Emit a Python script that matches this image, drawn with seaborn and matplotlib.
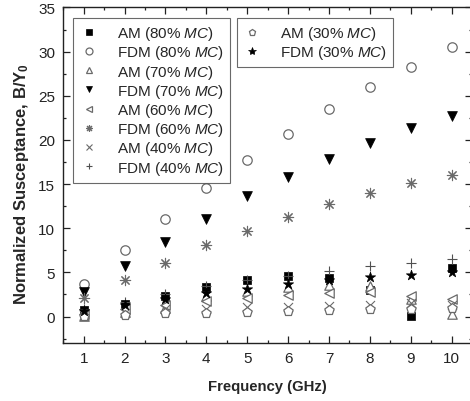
import matplotlib
matplotlib.use("Agg")
import matplotlib.pyplot as plt
from matplotlib.lines import Line2D
from matplotlib.ticker import MultipleLocator
import seaborn as sns
import pandas as pd

# Frequencies (GHz)
freq = [1, 2, 3, 4, 5, 6, 7, 8, 9, 10]

# Normalized susceptance B/Y0 per method and moisture content
am_80 = [0.7, 1.45, 2.35, 3.3, 4.15, 4.6, 4.4, 3.0, 0.1, 5.45]
fdm_80 = [3.7, 7.5, 11.0, 14.5, 17.7, 20.7, 23.5, 26.0, 28.3, 30.5]
am_70 = [0.1, 0.5, 1.0, 2.3, 2.9, 3.3, 3.6, 3.4, 2.0, 0.3]
fdm_70 = [2.8, 5.7, 8.4, 11.0, 13.6, 15.8, 17.8, 19.7, 21.3, 22.7]
am_60 = [0.3, 0.8, 1.3, 1.7, 2.1, 2.45, 2.7, 2.8, 2.3, 1.95]
fdm_60 = [2.1, 4.1, 6.1, 8.05, 9.7, 11.3, 12.7, 14.0, 15.1, 16.0]
am_40 = [0.2, 0.45, 0.8, 0.9, 1.05, 1.1, 1.2, 1.3, 1.5, 1.35]
fdm_40 = [0.8, 1.6, 2.6, 3.5, 4.15, 4.6, 5.2, 5.7, 6.1, 6.55]
am_30 = [0.05, 0.2, 0.35, 0.45, 0.55, 0.65, 0.75, 0.85, 0.9, 0.95]
fdm_30 = [0.6, 1.3, 2.0, 2.7, 3.1, 3.7, 4.1, 4.5, 4.75, 5.0]

labels = ["AM (80% $\\mathit{MC}$)", "FDM (80% $\\mathit{MC}$)",
          "AM (70% $\\mathit{MC}$)", "FDM (70% $\\mathit{MC}$)",
          "AM (60% $\\mathit{MC}$)", "FDM (60% $\\mathit{MC}$)",
          "AM (40% $\\mathit{MC}$)", "FDM (40% $\\mathit{MC}$)",
          "AM (30% $\\mathit{MC}$)", "FDM (30% $\\mathit{MC}$)"]
values = [am_80, fdm_80, am_70, fdm_70, am_60, fdm_60, am_40, fdm_40, am_30, fdm_30]

GRAY = "#6a6a6a"
BLACK = "#000000"
# marker, face, edge, size, linewidth
styles = [
    ("s", BLACK, BLACK, 32, 0.5),
    ("o", "white", GRAY, 46, 0.9),
    ("^", "white", GRAY, 46, 0.9),
    ("v", BLACK, BLACK, 50, 0.5),
    ("<", "white", GRAY, 46, 0.9),
    ((8, 2, 0), GRAY, GRAY, 55, 0.8),
    ("x", GRAY, GRAY, 42, 0.8),
    ("+", "#505050", "#505050", 55, 0.8),
    ("p", "white", GRAY, 50, 0.9),
    ("*", BLACK, BLACK, 60, 0.5),
]

sns.set_style("ticks")
plt.rcParams["font.family"] = ["Liberation Sans", "DejaVu Sans"]
plt.rcParams["mathtext.fontset"] = "custom"
plt.rcParams["mathtext.rm"] = "Liberation Sans"
plt.rcParams["mathtext.it"] = "Liberation Sans:italic"
plt.rcParams["mathtext.bf"] = "Liberation Sans:bold"

fig = plt.figure(figsize=(4.7, 4.02), dpi=100)
ax = fig.add_axes([0.1347, 0.1443, 0.8696, 0.8346])

handles = []
for lab, vals, (mk, fc, ec, sz, lw) in zip(labels, values, styles):
    df = pd.DataFrame({"Frequency": freq, "B": vals})
    sns.scatterplot(data=df, x="Frequency", y="B", ax=ax, marker=mk,
                    color=fc, edgecolor=ec, s=sz, linewidth=lw, legend=False,
                    zorder=3)
    handles.append(Line2D([], [], linestyle="none", marker=mk,
                          markerfacecolor=fc, markeredgecolor=ec,
                          color=ec, markersize=5.0 if mk != "*" else 6.0,
                          markeredgewidth=lw, label=lab))

ax.set_xlim(0.5, 10.5)
ax.set_ylim(-3, 35)
ax.xaxis.set_major_locator(MultipleLocator(1))
ax.xaxis.set_minor_locator(MultipleLocator(0.5))
ax.yaxis.set_major_locator(MultipleLocator(5))
ax.yaxis.set_minor_locator(MultipleLocator(2.5))
ax.tick_params(which="both", direction="in", top=True, right=True,
               labelsize=11, width=0.9, colors="#222222")
ax.tick_params(which="major", length=5, pad=6)
ax.tick_params(which="minor", length=2.5)
for sp in ax.spines.values():
    sp.set_linewidth(1.0)
    sp.set_color("#222222")

ax.set_xlabel("Frequency (GHz)", fontsize=10.7, fontweight="bold")
ax.set_ylabel("Normalized Susceptance, B/Y$_{\\mathbf{0}}$", fontsize=12,
              fontweight="bold")
ax.xaxis.set_label_coords(0.5, -0.127)
ax.xaxis.label.set(va="center", ha="center")
ax.yaxis.set_label_coords(-0.1035, 0.477)
ax.yaxis.label.set(va="center", ha="center", rotation_mode="default")

legend_kw = dict(loc="upper left", borderaxespad=0, fontsize=11,
                 frameon=True, fancybox=False, labelspacing=0.08,
                 handletextpad=1.2, handlelength=1.25, borderpad=0.4)

leg1 = ax.legend(handles=handles[:8], bbox_to_anchor=(0.0245, 0.9687),
                 **legend_kw)
leg1.get_frame().set_edgecolor("#444444")
leg1.get_frame().set_linewidth(0.8)
ax.add_artist(leg1)

leg2 = ax.legend(handles=handles[8:], bbox_to_anchor=(0.424, 0.9687),
                 **legend_kw)
leg2.get_frame().set_edgecolor("#444444")
leg2.get_frame().set_linewidth(0.8)

fig.savefig("out.png", dpi=100)
